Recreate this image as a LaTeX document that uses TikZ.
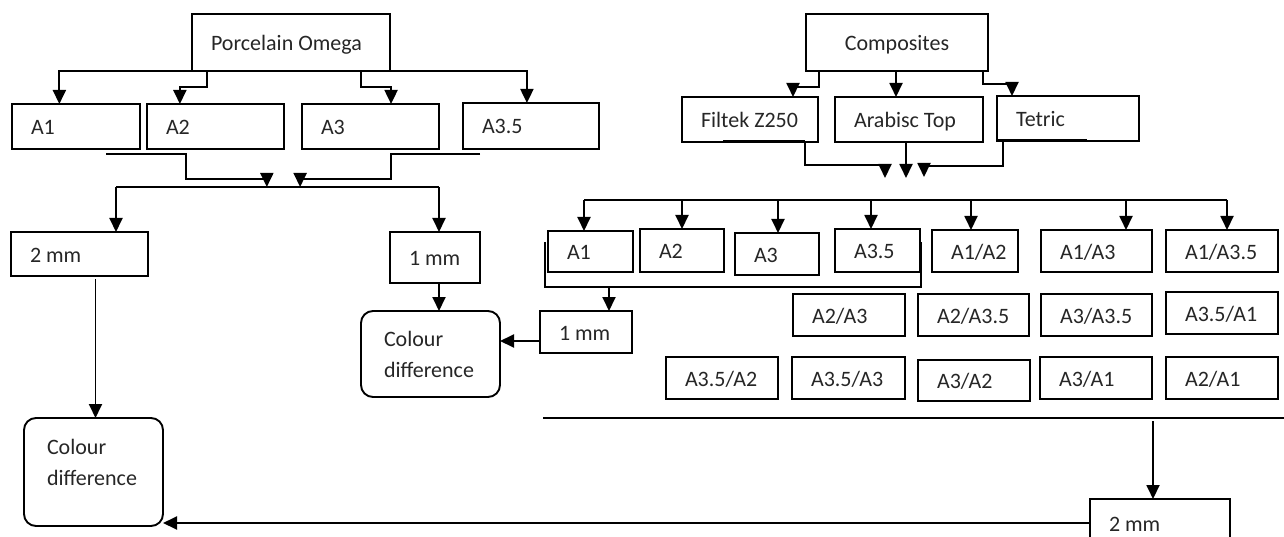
\documentclass[tikz,border=0pt]{standalone}
\usepackage{fontspec}
\setmainfont{Carlito}
\usetikzlibrary{calc}
\usetikzlibrary{arrows.meta}

\tikzset{
  box/.style 2 args={draw, anchor=north west, outer sep=0pt, inner ysep=0pt, inner xsep=19pt,
    text width=#1pt-38pt, minimum height=#2pt, align=left, text height=18pt, text depth=2pt},
  cdbox/.style 2 args={draw, anchor=north west, outer sep=0pt, rounded corners=12pt, inner ysep=0pt,
    inner xsep=23pt, text width=#1pt-46pt, minimum height=#2pt, align=left},
  arr/.style={-{Triangle[length=14pt,width=13pt]}},
}

\begin{document}
\begin{tikzpicture}[x=1pt, y=-1pt, line width=1.9pt, text=black!85,
  font=\fontsize{22}{31}\selectfont, execute at begin node={\spaceskip=0pt\relax}]
\useasboundingbox (0,0) rectangle (1284,537);
\clip (0,0) rectangle (1284,537);

% porcelain side
\node[box={198}{57}] (po) at (192,14) {Porcelain~Omega};
\node[box={128}{45}] (pa1) at (12,104) {A1};
\node[box={137}{45}] (pa2) at (147,104) {A2};
\node[box={137}{45}] (pa3) at (302,104) {A3};
\node[box={136}{46}] (pa4) at (463,103) {A3.5};
\node[box={137}{44}] (ptwo) at (11,232) {2~mm};
\node[box={90}{51}] (pone) at (390,232) {1~mm};
\node[cdbox={139}{86}] (pcdm) at (361,311) {Colour\\difference};
\node[cdbox={139}{108}, text depth=50pt] (pcdl) at (24,418) {Colour\\difference};

\draw[arr] (po.south west) -| ($(pa1.north west)!.37!(pa1.north east)$);
\draw[arr] ($(po.south west)!.076!(po.south east)$) -- ++(0,16) -| ($(pa2.north west)!.24!(pa2.north east)$);
\draw[arr] ($(po.south west)!.854!(po.south east)$) -- ++(0,16) -| ($(pa3.north west)!.65!(pa3.north east)$);
\draw[arr] (po.south east) -| ($(pa4.north west)!.47!(pa4.north east)$);

\coordinate (pbus1) at (116,187);
\coordinate (pbus2) at (439,187);
\draw (pbus1) -- (pbus2);
\draw[arr] ($(pa1.south west)+(94,5)$) -| ($(pa2.south west)+(39,30)$) -| ($(pbus1)!.467!(pbus2)$);
\draw[arr] ($(pa4.south west)+(17,5)$) -| ($(pa3.south west)+(89,30)$) -| ($(pbus1)!.57!(pbus2)$);
\draw[arr] (pbus1) -- (pbus1 |- ptwo.north);
\draw[arr] (pbus2) -- (pbus2 |- pone.north);
\draw[arr] (pbus2 |- pone.south) -- (pbus2 |- pcdm.north);
\draw[arr] ($(pcdl.north |- ptwo.south)+(2,3)$) -- ($(pcdl.north)+(2,0)$);

% composites side
\node[box={182}{57}, align=center] (comp) at (806,14) {Composites};
\node[box={136}{45}] (fz) at (682,97) {Filtek~Z250};
\node[box={148}{45}] (ab) at (835,97) {Arabisc~Top};
\node[box={142}{45}] (te) at (997,96) {Tetric};

\draw[arr] ($(comp.south west)+(13,0)$) -- ++(0,16) -| ($(fz.north west)+(111,0)$);
\draw[arr] ($(comp.south)+(-1,0)$) -- ($(comp.south |- ab.north)+(-1,0)$);
\draw[arr] ($(comp.south east)+(-5,0)$) -- ++(0,13) -| ($(te.north west)+(15,0)$);

\draw[line width=3pt] ($(fz.south west)+(41,0)$) -- ($(fz.south east)+(-13,0)$);
\draw[line width=3pt] (te.south west) -- ($(te.south west)+(90,0)$);
\draw[arr] ($(fz.south east)+(-13,0)$) -- ++(0,23) -| ++(80,13);
\draw[arr] ($(ab.south)+(-3,0)$) -- ++(0,36);
\draw[arr] ($(te.south west)+(6,0)$) -- ++(0,25) -| ++(-79,11);

\coordinate (cbus1) at (584,200);
\coordinate (cbus2) at (1227,200);
\draw (cbus1) -- (cbus2);

\node[box={85}{41}] (ca1) at (548,231) {A1};
\node[box={84}{43}] (ca2) at (640,229) {A2};
\node[box={84}{42}] (ca3) at (735,233) {A3};
\node[box={85}{43}] (ca4) at (835,229) {A3.5};
\node[box={86}{42}] (c12) at (932,230) {A1/A2};
\node[box={111}{42}] (c13) at (1041,230) {A1/A3};
\node[box={112}{42}] (c14) at (1166,230) {A1/A3.5};

\foreach \n/\d in {ca1/-6.5, ca2/0, ca3/1, ca4/-6.5, c12/-4, c13/29.5, c14/5}
  \draw[arr] ($(\n.north |- cbus1)+(\d,0)$) -- ($(\n.north)+(\d,0)$);

\coordinate (cbrk) at ($(ca4.south east)+(1,15)$);
\draw ($(ca1.north west)+(-3,11)$) |- (cbrk) -- ($(ca4.north east)+(1,13)$);

\node[box={92}{42}] (cone) at (540,311) {1~mm};
\draw[arr] ($(cone.north |- cbrk)+(23,0)$) -- ($(cone.north)+(23,0)$);
\draw[arr] ($(cone.west)+(0,9)$) -- ($(cone.west -| pcdm.east)+(0,9)$);

\node[box={112}{42}] (c23) at (793,294) {A2/A3};
\node[box={111}{42}] (c24) at (918,294) {A2/A3.5};
\node[box={111}{42}] (c34) at (1041,294) {A3/A3.5};
\node[box={112}{42}] (c41) at (1166,292) {A3.5/A1};
\node[box={112}{42}] (c42) at (666,357) {A3.5/A2};
\node[box={113}{42}] (c43) at (792,357) {A3.5/A3};
\node[box={112}{41}] (c32) at (918,360) {A3/A2};
\node[box={112}{42}] (c31) at (1040,357) {A3/A1};
\node[box={112}{42}] (c21) at (1166,357) {A2/A1};

\coordinate (cline1) at (543,418);
\coordinate (cline2) at (1284,418);
\draw (cline1) -- (cline2);
\node[box={140}{48}] (ctwo) at (1090,499) {2~mm};
\draw[arr] ($(ctwo.north |- cline1)+(-7,3)$) -- ($(ctwo.north)+(-7,0)$);
\draw[arr] (ctwo.west) -- (ctwo.west -| pcdl.east);
\end{tikzpicture}
\end{document}
